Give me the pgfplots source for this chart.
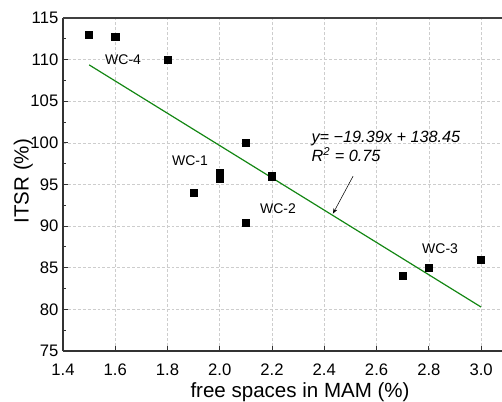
\documentclass[border=0pt]{standalone}
\usepackage{fontspec}
\setmainfont{Liberation Sans}
\usepackage{pgfplots}
\pgfplotsset{compat=1.18}
\usetikzlibrary{arrows.meta, calc}
\definecolor{fitGreen}{RGB}{20,135,20}
\definecolor{gridGray}{RGB}{205,205,205}

\begin{document}
\begin{tikzpicture}
  \begin{axis}[
      scale only axis,
      width=329.25pt, height=249.75pt,
      xmin=1.4, xmax=3.08,
      ymin=75, ymax=115,
      xtick={1.4,1.6,...,3.0},
      ytick={75,80,...,115},
      minor y tick num=1,
      xticklabel style={yshift=-6pt, /pgf/number format/.cd, fixed, fixed zerofill, precision=1},
      /pgf/number format/assume math mode=true,
      axis lines=left,
      axis line style={-, line width=0.9pt, black!80},
      tick align=inside,
      major tick length=4pt,
      minor tick length=2.5pt,
      tick style={black!80, line width=0.7pt},
      grid=major,
      major grid style={gridGray, dash pattern=on 2.2pt off 1.5pt, line width=0.5pt},
      tick label style={font=\fontsize{12.5}{14}\selectfont},
      label style={font=\fontsize{15.4}{17}\selectfont},
      xlabel={free spaces in MAM (\%)},
      ylabel={ITSR (\%)},
      xlabel style={at={(axis description cs:0.54,-0.14)}, anchor=base, inner sep=0pt},
      ylabel style={at={(axis description cs:-0.068,0.51)}, anchor=south, inner sep=0pt},
      clip=false,
    ]
    % fitted line y = -19.39x + 138.45, endpoints
    \addplot[fitGreen, line width=0.9pt] coordinates {(1.5,109.37) (3.0,80.28)};

    \addplot[only marks, mark=square*, mark size=2.7pt, black]
      coordinates {
        (1.5,113.0) (1.6,112.7) (1.8,110.0)
        (2.0,96.4) (2.0,95.7) (1.9,94.0) (2.1,100.0)
        (2.1,90.4) (2.2,96.0)
        (2.7,84.0) (2.8,85.0) (3.0,86.0)
      };

    \node[font=\fontsize{10.5}{12}\selectfont] at (axis cs:1.63,110.0) {WC-4};
    \node[font=\fontsize{10.5}{12}\selectfont] at (axis cs:1.886,97.9) {WC-1};
    \node[font=\fontsize{10.5}{12}\selectfont] at (axis cs:2.223,92.1) {WC-2};
    \node[font=\fontsize{10.5}{12}\selectfont] at (axis cs:2.843,87.25) {WC-3};

    \node[anchor=west, align=left, inner sep=0pt, font=\fontsize{12.2}{13.8}\selectfont\itshape]
      at (axis cs:2.35,99.6) {y= −19.39x + 138.45\\R\textsuperscript{2} = 0.75};
    \draw[-{Stealth[length=4pt, width=3pt]}, line width=0.4pt]
      (axis cs:2.51,96.0) -- (axis cs:2.433,91.5);

    \draw[line width=0.9pt, black!75] (rel axis cs:0,1) -- (rel axis cs:1,1);
  \end{axis}
  \pgfresetboundingbox
  \path[use as bounding box] ($(current axis.south west)+(-47.25pt,-37.5pt)$)
    rectangle ($(current axis.north east)+(0,13.5pt)$);
\end{tikzpicture}
\end{document}
